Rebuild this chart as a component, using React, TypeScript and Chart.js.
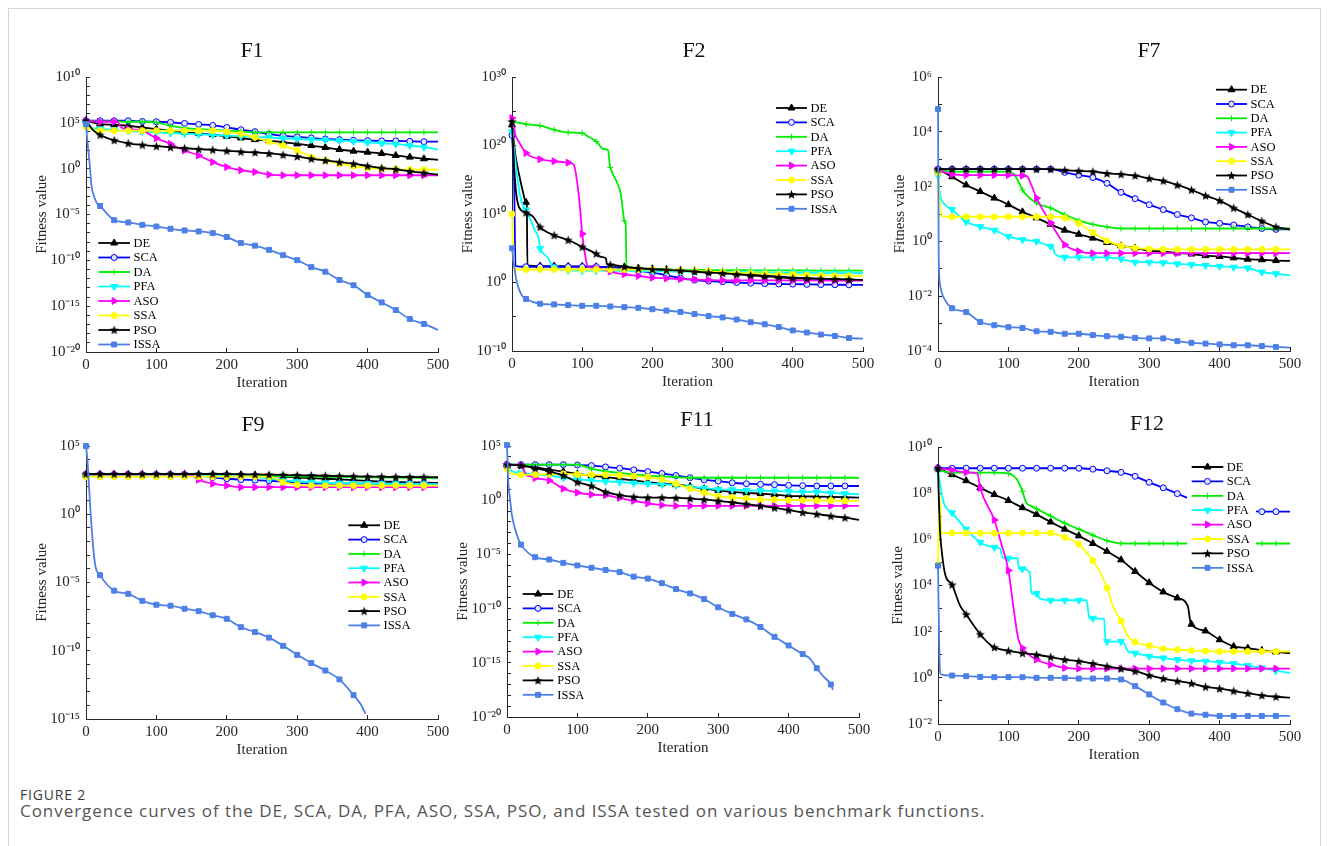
import React, { useEffect, useRef } from 'react';
import { Chart, registerables } from 'chart.js';
import { drawPoint } from 'chart.js/helpers';

Chart.register(...registerables);

// ---------------- data (log10 of fitness value, read at ITER) ----------------
const ITER = [0, 20, 40, 60, 80, 100, 120, 140, 160, 180, 200, 220, 240, 260, 280, 300, 320, 340, 360, 380, 400, 420, 440, 460, 480, 500];
const X_TICKS = [0, 100, 200, 300, 400, 500];
const METHODS = ['DE', 'SCA', 'DA', 'PFA', 'ASO', 'SSA', 'PSO', 'ISSA'];

// F1
const F1_DE = [5.23, 4.86, 4.79, 4.68, 4.5, 4.32, 4.14, 3.96, 3.86, 3.71, 3.53, 3.35, 3.17, 3.06, 2.88, 2.7, 2.52, 2.31, 2.09, 1.91, 1.8, 1.66, 1.44, 1.26, 1.08, 0.97];
const F1_SCA = [5.23, 5.23, 5.23, 5.23, 5.15, 5.12, 5.05, 4.94, 4.83, 4.72, 4.5, 4.25, 4.04, 3.78, 3.6, 3.46, 3.35, 3.24, 3.17, 3.1, 3.06, 3.03, 3.03, 2.99, 2.95, 2.95];
const F1_DA = [5.23, 5.15, 5.15, 5.12, 5.12, 5.05, 4.68, 4.43, 4.32, 4.22, 4.14, 4.07, 3.96, 3.96, 3.96, 3.96, 3.96, 3.96, 3.96, 3.96, 3.96, 3.96, 3.96, 3.96, 3.96, 3.96];
const F1_PFA = [4.9, 4.32, 4.22, 4.11, 4.04, 3.96, 3.89, 3.82, 3.75, 3.68, 3.6, 3.53, 3.46, 3.39, 3.32, 3.24, 3.17, 3.14, 3.06, 2.99, 2.88, 2.77, 2.67, 2.52, 2.34, 2.09];
const F1_ASO = [5.23, 5.12, 5.12, 4.32, 4.14, 3.32, 2.7, 1.98, 1.44, 0.72, 0.18, -0.18, -0.36, -0.65, -0.72, -0.72, -0.72, -0.72, -0.72, -0.72, -0.72, -0.72, -0.72, -0.72, -0.72, -0.72];
const F1_SSA = [4.5, 4.14, 4.14, 4.14, 4.14, 4.14, 4.14, 4.14, 4.14, 4.14, 4.04, 3.78, 3.42, 2.95, 2.52, 1.98, 1.26, 0.9, 0.54, 0.29, 0.07, 0, -0.07, -0.11, -0.11, -0.11];
const F1_PSO = [5.23, 3.68, 3.1, 2.77, 2.59, 2.45, 2.34, 2.23, 2.13, 2.05, 1.95, 1.84, 1.77, 1.66, 1.51, 1.33, 1.08, 0.9, 0.72, 0.54, 0.29, 0.07, -0.07, -0.29, -0.47, -0.65];
const F1_ISSA = [4.86, -4.07, -5.62, -5.87, -6.13, -6.31, -6.56, -6.74, -6.85, -7.03, -7.46, -8.11, -8.4, -8.86, -9.44, -9.98, -10.74, -11.24, -12.14, -12.72, -13.77, -14.59, -15.42, -16.4, -16.94, -17.59];
const F1_EXTRA: Record<string, number[][]> = {
  PFA: [[5, 4.5]],
  ASO: [[45, 5.1], [50, 4.5]],
  PSO: [[5, 4.7], [10, 4.2]],
  ISSA: [[2, 3.0], [5, 0.7], [8, -2.0], [11, -2.9], [15, -3.7]],
};
const F1_YTICKS = [1e-20, 1e-15, 1e-10, 1e-5, 1, 1e5, 1e10];

// F2
const F2_DE = [23.0, 11.7, 2.4, 2.4, 2.35, 2.35, 2.3, 2.25, 2.25, 2.1, 2.0, 1.9, 1.8, 1.7, 1.55, 1.45, 1.3, 1.15, 1.0, 0.85, 0.72, 0.62, 0.55, 0.48, 0.42, 0.38];
const F2_SCA = [21.5, 2.3, 2.3, 2.3, 2.3, 2.3, 2.3, 2.2, 2.0, 1.7, 1.44, 1.05, 0.63, 0.35, 0.2, 0.1, 0, -0.1, -0.17, -0.22, -0.24, -0.27, -0.3, -0.32, -0.34, -0.34];
const F2_DA = [23.5, 23.1, 22.9, 22.3, 21.9, 21.8, 20.6, 16.8, 9.0, 1.92, 1.9, 1.88, 1.86, 1.84, 1.82, 1.8, 1.79, 1.78, 1.77, 1.76, 1.75, 1.75, 1.74, 1.74, 1.73, 1.73];
const F2_PFA = [22.0, 10.6, 4.95, 2.2, 1.75, 1.72, 1.72, 1.72, 1.7, 1.68, 1.65, 1.62, 1.6, 1.58, 1.55, 1.52, 1.5, 1.48, 1.45, 1.43, 1.42, 1.4, 1.38, 1.37, 1.36, 1.35];
const F2_ASO = [24.0, 18.9, 18.0, 17.7, 17.5, 7.1, 2.1, 1.6, 1.2, 0.96, 0.7, 0.6, 0.5, 0.42, 0.36, 0.32, 0.3, 0.3, 0.3, 0.3, 0.3, 0.3, 0.3, 0.29, 0.29, 0.29];
const F2_SSA = [10.0, 1.9, 1.9, 1.9, 1.9, 1.9, 1.9, 1.9, 1.9, 1.9, 1.9, 1.8, 1.75, 1.7, 1.6, 1.5, 1.4, 1.35, 1.3, 1.25, 1.2, 1.1, 1.05, 1.0, 0.98, 0.96];
const F2_PSO = [23.5, 10.2, 8.1, 6.9, 6.2, 5.2, 4.2, 2.6, 2.3, 2.07, 1.92, 1.83, 1.73, 1.59, 1.44, 1.35, 1.2, 1.06, 0.91, 0.77, 0.63, 0.58, 0.53, 0.48, 0.43, 0.38];
const F2_ISSA = [5.0, -2.4, -3.1, -3.2, -3.3, -3.4, -3.4, -3.5, -3.6, -3.7, -3.9, -4.1, -4.3, -4.6, -4.9, -5.1, -5.4, -5.8, -6.1, -6.5, -7.0, -7.3, -7.6, -7.8, -8.1, -8.2];
const F2_EXTRA: Record<string, number[][]> = {
  DE: [[5, 18.5], [10, 15.8], [15, 13.5], [21, 11.6], [22, 2.5]],
  SCA: [[3, 15], [5, 2.4]],
  DA: [[110, 21.2], [130, 19.5], [137, 19.3], [139, 17.3], [150, 14.5], [155, 12.9], [158, 10.5], [162, 8.6], [163, 2.3]],
  PFA: [[4, 18.5], [8, 15], [12, 12.5], [16, 11.2], [27, 9.0], [33, 7.5], [38, 6.5], [44, 4.3], [52, 3.5], [57, 2.4]],
  ASO: [[5, 21.5], [10, 20.5], [88, 17.2], [93, 14.5], [97, 10.8], [105, 3.5], [108, 2.3]],
  SSA: [[3, 1.9]],
  PSO: [[3, 17], [6, 13], [10, 11], [30, 9.6], [128, 3.7], [134, 3.5], [135, 2.7]],
  ISSA: [[3, 2.5], [6, 0.5], [10, -1.0], [15, -2.0]],
};
const F2_YTICKS = [1e-10, 1, 1e10, 1e20, 1e30];

// F7
const F7_DE = [2.64, 2.36, 2.06, 1.82, 1.58, 1.34, 1.08, 0.86, 0.62, 0.41, 0.26, 0.12, -0.04, -0.16, -0.24, -0.34, -0.37, -0.42, -0.46, -0.52, -0.55, -0.6, -0.65, -0.67, -0.7, -0.71];
const F7_SCA = [2.64, 2.64, 2.64, 2.64, 2.64, 2.64, 2.64, 2.64, 2.64, 2.52, 2.42, 2.33, 2.12, 1.79, 1.56, 1.34, 1.16, 0.98, 0.86, 0.71, 0.66, 0.6, 0.53, 0.47, 0.44, 0.44];
const F7_DA = [2.6, 2.55, 2.55, 2.55, 2.55, 2.55, 1.88, 1.4, 1.22, 0.98, 0.77, 0.62, 0.53, 0.47, 0.47, 0.47, 0.47, 0.47, 0.47, 0.47, 0.47, 0.47, 0.47, 0.47, 0.47, 0.47];
const F7_PFA = [2.4, 1.16, 0.72, 0.54, 0.41, 0.18, 0.06, 0, -0.18, -0.58, -0.58, -0.58, -0.58, -0.64, -0.76, -0.76, -0.78, -0.82, -0.85, -0.88, -0.91, -0.94, -0.97, -1.12, -1.18, -1.24];
const F7_ASO = [2.6, 2.45, 2.42, 2.42, 2.42, 2.42, 2.4, 1.58, 0.68, -0.12, -0.36, -0.43, -0.43, -0.43, -0.43, -0.43, -0.43, -0.43, -0.43, -0.43, -0.43, -0.43, -0.43, -0.43, -0.43, -0.43];
const F7_SSA = [2.5, 0.9, 0.9, 0.9, 0.9, 0.9, 0.9, 0.9, 0.9, 0.86, 0.66, 0.32, 0.02, -0.16, -0.24, -0.28, -0.29, -0.29, -0.29, -0.29, -0.29, -0.29, -0.29, -0.29, -0.29, -0.29];
const F7_PSO = [2.64, 2.64, 2.64, 2.64, 2.64, 2.64, 2.64, 2.64, 2.64, 2.6, 2.57, 2.55, 2.48, 2.45, 2.4, 2.3, 2.21, 2.06, 1.88, 1.67, 1.49, 1.22, 0.98, 0.74, 0.53, 0.44];
const F7_ISSA = [4.83, -2.44, -2.58, -2.94, -3.06, -3.13, -3.16, -3.28, -3.3, -3.37, -3.37, -3.42, -3.46, -3.48, -3.52, -3.54, -3.54, -3.64, -3.7, -3.73, -3.76, -3.79, -3.79, -3.82, -3.85, -3.88];
const F7_EXTRA: Record<string, number[][]> = {
  DA: [[108, 2.45], [115, 2.15]],
  PFA: [[3, 1.7], [10, 1.34], [163, -0.2], [166, -0.45]],
  ASO: [[126, 2.38], [132, 2.1], [170, 0.25]],
  SSA: [[3, 1.2], [5, 0.92]],
  ISSA: [[1, -0.5], [3, -1.6], [10, -2.14]],
};
const F7_YTICKS = [1e-4, 1e-2, 1, 1e2, 1e4, 1e6];

// F9
const F9_DE = [2.9, 2.9, 2.9, 2.9, 2.9, 2.9, 2.9, 2.9, 2.9, 2.9, 2.9, 2.88, 2.85, 2.8, 2.75, 2.7, 2.65, 2.6, 2.55, 2.5, 2.45, 2.4, 2.37, 2.34, 2.32, 2.3];
const F9_SCA = [2.9, 2.9, 2.9, 2.9, 2.9, 2.9, 2.9, 2.9, 2.85, 2.7, 2.6, 2.53, 2.5, 2.45, 2.4, 2.3, 2.25, 2.25, 2.25, 2.25, 2.25, 2.25, 2.25, 2.25, 2.25, 2.25];
const F9_DA = [2.85, 2.85, 2.85, 2.85, 2.85, 2.85, 2.85, 2.85, 2.85, 2.85, 2.85, 2.83, 2.82, 2.8, 2.78, 2.77, 2.75, 2.74, 2.72, 2.71, 2.7, 2.69, 2.68, 2.67, 2.66, 2.65];
const F9_PFA = [2.85, 2.85, 2.85, 2.85, 2.85, 2.85, 2.85, 2.85, 2.85, 2.85, 2.85, 2.8, 2.75, 2.6, 2.5, 2.4, 2.35, 2.3, 2.28, 2.26, 2.25, 2.24, 2.23, 2.22, 2.21, 2.2];
const F9_ASO = [2.9, 2.9, 2.9, 2.9, 2.9, 2.9, 2.9, 2.9, 2.53, 2.24, 2.1, 1.98, 1.98, 1.98, 1.98, 1.98, 1.98, 1.98, 1.98, 1.98, 1.98, 1.98, 1.98, 1.98, 1.98, 1.98];
const F9_SSA = [2.75, 2.75, 2.75, 2.75, 2.75, 2.75, 2.75, 2.75, 2.75, 2.75, 2.75, 2.75, 2.75, 2.75, 2.35, 2.17, 2.1, 2.1, 2.1, 2.1, 2.1, 2.1, 2.1, 2.1, 2.1, 2.1];
const F9_PSO = [2.95, 2.95, 2.95, 2.95, 2.95, 2.95, 2.95, 2.95, 2.95, 2.95, 2.95, 2.93, 2.92, 2.9, 2.88, 2.86, 2.84, 2.82, 2.8, 2.78, 2.76, 2.75, 2.74, 2.73, 2.72, 2.71];
const F9_ISSA = [5.0, -4.46, -5.6, -5.83, -6.34, -6.63, -6.7, -6.92, -7.1, -7.4, -7.66, -8.27, -8.63, -9.04, -9.64, -10.3, -10.9, -11.45, -12.1, -13.25];
const F9_EXTRA: Record<string, number[][]> = {
  ASO: [[150, 2.85]],
  ISSA: [[2, 4.0], [4, 2.3], [8, -1.0], [13, -3.7], [390, -13.9], [397, -14.6]],
};
const F9_YTICKS = [1e-15, 1e-10, 1e-5, 1, 1e5];

// F11
const F11_DE = [3.28, 3.19, 3.04, 2.83, 2.64, 2.43, 2.28, 2.13, 1.98, 1.82, 1.67, 1.52, 1.43, 1.28, 1.06, 0.91, 0.76, 0.67, 0.61, 0.52, 0.4, 0.36, 0.33, 0.3, 0.27, 0.24];
const F11_SCA = [3.28, 3.28, 3.28, 3.28, 3.28, 3.25, 3.19, 3.07, 2.95, 2.8, 2.64, 2.46, 2.28, 2.07, 1.88, 1.76, 1.61, 1.52, 1.46, 1.43, 1.37, 1.34, 1.31, 1.31, 1.31, 1.31];
const F11_DA = [3.28, 3.28, 3.28, 3.28, 3.28, 3.28, 2.89, 2.67, 2.52, 2.37, 2.28, 2.19, 2.13, 2.07, 2.07, 2.07, 2.07, 2.07, 2.07, 2.07, 2.07, 2.07, 2.07, 2.07, 2.07, 2.07];
const F11_PFA = [3.19, 2.52, 2.37, 2.28, 2.07, 1.91, 1.82, 1.73, 1.67, 1.58, 1.52, 1.46, 1.37, 1.22, 1.12, 1.0, 0.97, 0.91, 0.88, 0.85, 0.82, 0.76, 0.76, 0.67, 0.61, 0.55];
const F11_ASO = [3.28, 3.22, 2.04, 1.82, 1.06, 0.7, 0.52, 0.46, 0.21, -0.06, -0.3, -0.46, -0.52, -0.52, -0.52, -0.52, -0.52, -0.52, -0.52, -0.52, -0.52, -0.52, -0.52, -0.52, -0.52, -0.52];
const F11_SSA = [2.89, 2.34, 2.37, 2.4, 2.43, 2.37, 2.34, 2.34, 2.28, 2.22, 2.13, 1.91, 1.52, 1.06, 0.7, 0.36, 0.24, 0.15, 0.06, 0.06, 0, 0, -0.03, -0.03, -0.06, -0.06];
const F11_PSO = [3.28, 3.19, 2.95, 2.67, 2.28, 1.67, 1.31, 0.76, 0.46, 0.3, 0.24, 0.24, 0.21, 0.15, 0.06, -0.06, -0.21, -0.36, -0.52, -0.7, -0.91, -1.12, -1.28, -1.46, -1.61, -1.82];
const F11_ISSA = [5.08, -4.1, -5.26, -5.47, -5.78, -6.02, -6.23, -6.44, -6.63, -7.05, -7.23, -7.66, -8.2, -8.6, -9.12, -9.88, -10.49, -11.0, -11.7, -12.6, -13.4, -14.2, -15.5, -17.0];
const F11_EXTRA: Record<string, number[][]> = {
  PFA: [[5, 2.8], [10, 2.6]],
  ASO: [[28, 2.3], [34, 2.2]],
  SSA: [[5, 2.5]],
  ISSA: [[2, 1.5], [4, 0.3], [7, -1.37], [14, -3.2], [430, -14.6], [450, -16.3], [463, -17.5]],
};
const F11_YTICKS = [1e-20, 1e-15, 1e-10, 1e-5, 1, 1e5];

// F12
const F12_DE = [9.08, 8.8, 8.54, 8.23, 7.94, 7.68, 7.37, 7.08, 6.75, 6.44, 6.15, 5.82, 5.48, 5.11, 4.61, 4.12, 3.72, 3.46, 2.32, 2.03, 1.65, 1.36, 1.29, 1.19, 1.12, 1.07];
const F12_SCA = [9.08, 9.08, 9.08, 9.08, 9.08, 9.08, 9.08, 9.08, 9.08, 9.08, 9.08, 9.04, 8.97, 8.9, 8.73, 8.47, 8.23, 7.98, 7.73, 7.51, 7.37, 7.27, 7.22, 7.2, 7.2, 7.2];
const F12_DA = [9.0, 8.89, 8.89, 8.89, 8.89, 8.85, 8.08, 7.32, 7.01, 6.7, 6.44, 6.18, 5.94, 5.82, 5.82, 5.82, 5.82, 5.82, 5.82, 5.82, 5.82, 5.82, 5.82, 5.82, 5.82, 5.82];
const F12_PFA = [9.0, 7.15, 6.44, 5.87, 5.65, 5.18, 4.72, 3.65, 3.36, 3.36, 3.36, 2.58, 1.57, 1.57, 1.07, 0.93, 0.86, 0.79, 0.74, 0.72, 0.67, 0.62, 0.53, 0.43, 0.31, 0.21];
const F12_ASO = [9.08, 9.0, 8.9, 8.22, 6.84, 4.65, 1.29, 0.79, 0.57, 0.43, 0.4, 0.4, 0.4, 0.4, 0.4, 0.4, 0.4, 0.4, 0.4, 0.4, 0.4, 0.4, 0.4, 0.4, 0.4, 0.4];
const F12_SSA = [4.9, 6.27, 6.27, 6.27, 6.27, 6.27, 6.27, 6.27, 6.27, 6.08, 5.79, 5.08, 3.89, 2.46, 1.55, 1.4, 1.26, 1.22, 1.18, 1.16, 1.14, 1.14, 1.14, 1.14, 1.14, 1.14];
const F12_PSO = [9.08, 4.03, 2.75, 1.89, 1.32, 1.17, 1.07, 1.0, 0.9, 0.79, 0.72, 0.62, 0.5, 0.4, 0.29, 0.11, -0.03, -0.14, -0.24, -0.39, -0.47, -0.57, -0.67, -0.76, -0.82, -0.86];
const F12_ISSA = [4.86, 0.1, 0.07, 0.04, 0.03, 0.03, 0.03, 0, 0, 0, -0.03, -0.03, -0.03, -0.07, -0.36, -0.72, -1.07, -1.36, -1.55, -1.6, -1.65, -1.65, -1.65, -1.65, -1.65, -1.65];
const F12_EXTRA: Record<string, number[][]> = {
  DE: [[355, 3.1], [358, 2.5]],
  DA: [[105, 8.8], [112, 8.6], [125, 7.6], [132, 7.45]],
  PFA: [[3, 8.4], [8, 7.6], [88, 5.6], [92, 5.2], [113, 5.18], [115, 4.72], [130, 4.58], [133, 3.65], [145, 3.43], [211, 3.36], [215, 2.58], [236, 2.55], [238, 1.57], [262, 1.57], [270, 1.15]],
  ASO: [[56, 8.85], [90, 5.8], [107, 3.1], [114, 1.7]],
  SSA: [[2, 8.0], [5, 6.27], [230, 4.6], [250, 3.0], [270, 1.8]],
  PSO: [[1, 8.0], [3, 6.3], [5, 5.58], [10, 4.5], [31, 3.15], [50, 2.3], [70, 1.55]],
  ISSA: [[2, 1.0], [4, 0.15]],
};
const F12_YTICKS = [1e-2, 1, 1e2, 1e4, 1e6, 1e8, 1e10];

// ---------------- styles ----------------
const SERIF = "'Liberation Serif', 'Times New Roman', serif";
const AXIS = '#262626';
const STYLES = [
  { color: '#000000', fill: '#000000', style: 'triangle', rot: 0, r: 4 },
  { color: '#0000ff', fill: '#dfe6ff', style: 'circle', rot: 0, r: 3 },
  { color: '#00ee00', fill: '#00ee00', style: 'cross', rot: 0, r: 3 },
  { color: '#00ffff', fill: '#00ffff', style: 'triangle', rot: 180, r: 4 },
  { color: '#ff00ff', fill: '#ff00ff', style: 'triangle', rot: 90, r: 4 },
  { color: '#ffff00', fill: '#ffff00', style: 'circle', rot: 0, r: 3 },
  { color: '#000000', fill: '#000000', style: 'star', rot: 0, r: 4.2 },
  { color: '#4d80e6', fill: '#4d80e6', style: 'rect', rot: 0, r: 3.5 },
];

const PANELS = [
  { title: 'F1', series: [F1_DE, F1_SCA, F1_DA, F1_PFA, F1_ASO, F1_SSA, F1_PSO, F1_ISSA], extra: F1_EXTRA, yTicks: F1_YTICKS, minor: 1,
    L: 86, R: 438, T: 74, B: 352, yOff: 44, tx: 252, ty: 49.5, lg: { x: 12.3, y: 166, len: 31.7, gap: 3.5, sp: 14.5, box: null as null | number[] } },
  { title: 'F2', series: [F2_DE, F2_SCA, F2_DA, F2_PFA, F2_ASO, F2_SSA, F2_PSO, F2_ISSA], extra: F2_EXTRA, yTicks: F2_YTICKS, minor: 5,
    L: 512, R: 863, T: 74, B: 351, yOff: 44, tx: 694, ty: 49.5, lg: { x: 264, y: 31, len: 31, gap: 3.5, sp: 14.4, box: null } },
  { title: 'F7', series: [F7_DE, F7_SCA, F7_DA, F7_PFA, F7_ASO, F7_SSA, F7_PSO, F7_ISSA], extra: F7_EXTRA, yTicks: F7_YTICKS, minor: 1,
    L: 938, R: 1290, T: 74, B: 351, yOff: 38, tx: 1149, ty: 49.5, lg: { x: 278, y: 12.7, len: 31, gap: 3.5, sp: 14.3, box: null } },
  { title: 'F9', series: [F9_DE, F9_SCA, F9_DA, F9_PFA, F9_ASO, F9_SSA, F9_PSO, F9_ISSA], extra: F9_EXTRA, yTicks: F9_YTICKS, minor: 1,
    L: 86, R: 438, T: 443, B: 719, yOff: 44, tx: 253, ty: 424, lg: { x: 262.3, y: 79.3, len: 31.7, gap: 3.5, sp: 14.3, box: null } },
  { title: 'F11', series: [F11_DE, F11_SCA, F11_DA, F11_PFA, F11_ASO, F11_SSA, F11_PSO, F11_ISSA], extra: F11_EXTRA, yTicks: F11_YTICKS, minor: 1,
    L: 507, R: 859, T: 443, B: 717, yOff: 44, tx: 697, ty: 419, lg: { x: 15.7, y: 148, len: 30.6, gap: 4, sp: 14.4, box: null } },
  { title: 'F12', series: [F12_DE, F12_SCA, F12_DA, F12_PFA, F12_ASO, F12_SSA, F12_PSO, F12_ISSA], extra: F12_EXTRA, yTicks: F12_YTICKS, minor: 1,
    L: 938, R: 1290, T: 444, B: 724, yOff: 40, tx: 1147, ty: 423, lg: { x: 253.7, y: 20, len: 31.6, gap: 3.5, sp: 14.4, box: [249, 10, 69, 120] } },
];

const PAD_TOP = 16;
const PAD_RIGHT = 24;
const XH = 40;

const SUP: Record<string, string> = { '-': '⁻', '0': '⁰', '1': '¹', '2': '²', '3': '³', '4': '⁴', '5': '⁵', '6': '⁶', '7': '⁷', '8': '⁸', '9': '⁹' };
function powLabel(e: number) {
  return '10' + String(e).split('').map((c) => SUP[c] || c).join('');
}

function buildSeries(vals: number[], extra?: number[][]) {
  const pts = vals.map((v, i) => ({ x: ITER[i], y: Math.pow(10, v) }));
  (extra || []).forEach(([x, v]) => pts.push({ x, y: Math.pow(10, v) }));
  pts.sort((a, b) => a.x - b.x);
  return pts;
}

function makeStar(color: string, r: number) {
  const size = Math.ceil(r * 2 + 3);
  const c = document.createElement('canvas');
  c.width = size;
  c.height = size;
  const g = c.getContext('2d')!;
  g.beginPath();
  for (let i = 0; i < 10; i++) {
    const ang = -Math.PI / 2 + (i * Math.PI) / 5;
    const rr = i % 2 === 0 ? r : r * 0.42;
    const px = size / 2 + rr * Math.cos(ang);
    const py = size / 2 + 0.4 + rr * Math.sin(ang);
    if (i === 0) g.moveTo(px, py);
    else g.lineTo(px, py);
  }
  g.closePath();
  g.fillStyle = color;
  g.fill();
  return c;
}

function makeLegendPlugin(lg: any, star: HTMLCanvasElement) {
  return {
    id: 'insetLegend',
    afterDatasetsDraw(chart: any) {
      const { ctx, chartArea } = chart;
      ctx.save();
      if (lg.box) {
        ctx.fillStyle = '#ffffff';
        ctx.fillRect(chartArea.left + lg.box[0], chartArea.top + lg.box[1], lg.box[2], lg.box[3]);
      }
      ctx.font = `12.5px ${SERIF}`;
      ctx.textBaseline = 'middle';
      ctx.textAlign = 'left';
      METHODS.forEach((name, i) => {
        const st = STYLES[i];
        const y = chartArea.top + lg.y + i * lg.sp;
        const x0 = chartArea.left + lg.x;
        ctx.strokeStyle = st.color;
        ctx.lineWidth = 1.8;
        ctx.beginPath();
        ctx.moveTo(x0, y);
        ctx.lineTo(x0 + lg.len, y);
        ctx.stroke();
        ctx.fillStyle = st.fill;
        ctx.strokeStyle = st.color;
        ctx.lineWidth = 1;
        drawPoint(ctx, { pointStyle: st.style === 'star' ? star : st.style, rotation: st.rot, radius: st.r, borderWidth: 1 } as any, x0 + lg.len / 2, y);
        ctx.fillStyle = '#000000';
        ctx.fillText(name, x0 + lg.len + lg.gap, y + 0.5);
      });
      ctx.restore();
    },
  };
}

function Panel({ p }: { p: (typeof PANELS)[number] }) {
  const ref = useRef<HTMLCanvasElement>(null);
  const yw = p.yOff + 9;
  const width = p.R - p.L + yw + PAD_RIGHT;
  const height = p.B - p.T + PAD_TOP + XH;

  useEffect(() => {
    const star = makeStar('#000000', 4.8);
    const majorsExp = p.yTicks.map((v) => Math.round(Math.log10(v)));
    const lo = Math.min(...majorsExp);
    const hi = Math.max(...majorsExp);
    const datasets = p.series.map((vals, i) => {
      const st = STYLES[i];
      return {
        label: METHODS[i],
        data: buildSeries(vals, p.extra[METHODS[i]]),
        borderColor: st.color,
        backgroundColor: st.fill,
        borderWidth: 1.8,
        pointStyle: st.style === 'star' ? star : st.style,
        pointRotation: st.rot,
        pointBackgroundColor: st.fill,
        pointBorderColor: st.color,
        pointBorderWidth: 1,
        pointRadius: (c: any) => {
          const raw = c.raw;
          return raw && raw.x % 20 === 0 && raw.x < 500 ? st.r : 0;
        },
        cubicInterpolationMode: 'monotone',
        order: 8 - i,
        clip: false,
      };
    });
    const fontTick = { family: SERIF, size: 15, lineHeight: '18px' };
    const chart = new Chart(ref.current!, {
      type: 'line',
      data: { datasets } as any,
      plugins: [makeLegendPlugin(p.lg, star)],
      options: {
        animation: false,
        responsive: false,
        events: [],
        layout: { padding: { top: PAD_TOP, right: PAD_RIGHT, left: 0, bottom: 0 } },
        plugins: { legend: { display: false }, tooltip: { enabled: false }, title: { display: false } },
        scales: {
          x: {
            type: 'linear',
            min: 0,
            max: 500,
            afterBuildTicks: (s: any) => {
              s.ticks = X_TICKS.map((v) => ({ value: v }));
            },
            afterFit: (s: any) => {
              s.height = XH;
            },
            grid: { display: true, drawOnChartArea: false, drawTicks: true, tickLength: -4, color: AXIS, lineWidth: 1 },
            border: { display: true, color: AXIS, width: 1 },
            ticks: { padding: 8, color: AXIS, font: fontTick, maxRotation: 0, autoSkip: false },
            title: { display: true, text: 'Iteration', color: AXIS, font: fontTick, padding: 0 },
          },
          y: {
            type: 'logarithmic',
            min: Math.pow(10, lo),
            max: Math.pow(10, hi),
            afterBuildTicks: (s: any) => {
              const t: any[] = [];
              for (let e = lo; e <= hi; e += p.minor) t.push({ value: Math.pow(10, e) });
              s.ticks = t;
            },
            afterFit: (s: any) => {
              s.width = yw;
            },
            grid: { display: true, drawOnChartArea: false, drawTicks: true, tickLength: -4, color: AXIS, lineWidth: 1 },
            border: { display: true, color: AXIS, width: 1 },
            ticks: {
              padding: 10,
              color: AXIS,
              font: fontTick,
              autoSkip: false,
              callback: (v: any) => {
                const e = Math.round(Math.log10(Number(v)));
                return majorsExp.includes(e) ? powLabel(e) : '';
              },
            },
            title: { display: true, text: 'Fitness value', color: AXIS, font: fontTick, padding: 0 },
          },
        },
      } as any,
    });
    return () => chart.destroy();
  }, []);

  return (
    <>
      <canvas
        ref={ref}
        width={width}
        height={height}
        style={{ position: 'absolute', left: p.L - yw, top: p.T - PAD_TOP, width, height }}
      />
      <div
        style={{
          position: 'absolute',
          left: p.tx,
          top: p.ty,
          transform: 'translate(-50%, -50%)',
          font: `22px ${SERIF}`,
          lineHeight: 1,
          color: '#111',
          whiteSpace: 'nowrap',
        }}
      >
        {p.title}
      </div>
    </>
  );
}

export default function App() {
  return (
    <div style={{ position: 'absolute', left: 0, top: 0, width: 1330, height: 846, overflow: 'hidden', background: '#ffffff' }}>
      <div style={{ position: 'absolute', left: 8, top: 8, width: 1313, height: 900, border: '1px solid #d4d4d4', boxSizing: 'border-box' }} />
      {PANELS.map((p) => (
        <Panel key={p.title} p={p} />
      ))}
      <div
        style={{
          position: 'absolute',
          left: 20,
          top: 786,
          fontFamily: "'Open Sans', 'Noto Sans', sans-serif",
          fontSize: 14,
          lineHeight: '18px',
          color: '#3a3a3a',
          letterSpacing: 0.8,
          whiteSpace: 'nowrap',
        }}
      >
        FIGURE 2
      </div>
      <div
        style={{
          position: 'absolute',
          left: 20,
          top: 800,
          fontFamily: "'Open Sans', 'Noto Sans', sans-serif",
          fontSize: 17,
          lineHeight: '22px',
          color: '#555',
          letterSpacing: 0.95,
          whiteSpace: 'nowrap',
        }}
      >
        Convergence curves of the DE, SCA, DA, PFA, ASO, SSA, PSO, and ISSA tested on various benchmark functions.
      </div>
    </div>
  );
}
